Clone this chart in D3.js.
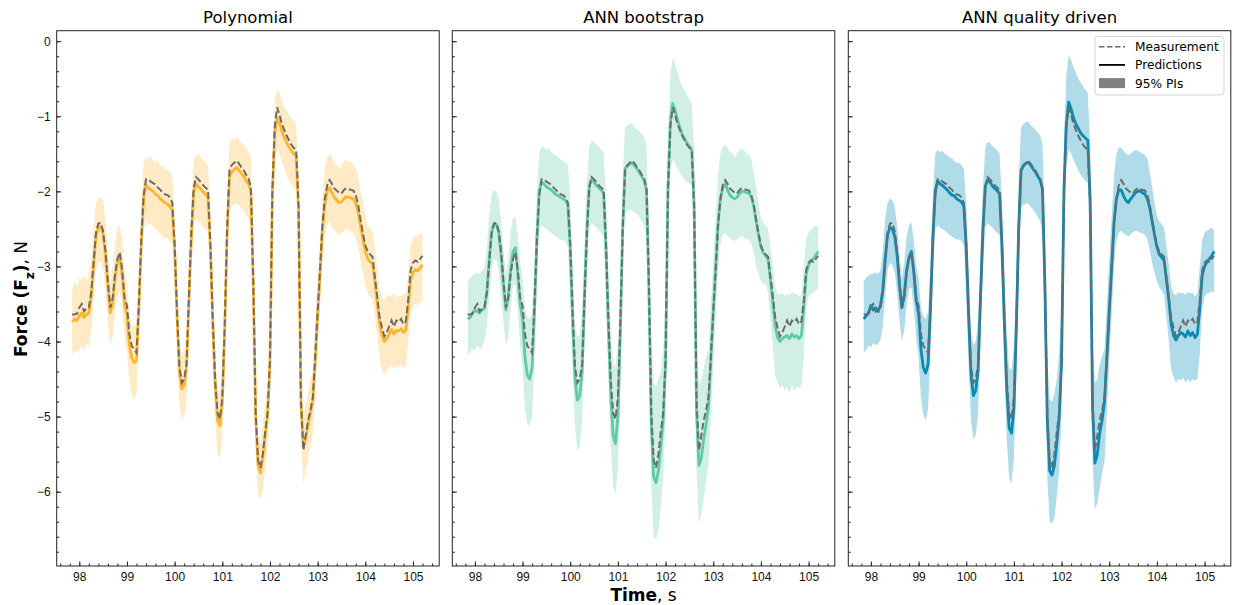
<!DOCTYPE html>
<html>
<head>
    <meta charset="utf-8">
    <title>Force prediction intervals</title>
    <script type="text/javascript" src="https://cdn.jsdelivr.net/npm/d3@7"></script>
    <style type="text/css">
        body { margin: 0; background: #fff; }
        svg { font-family: "DejaVu Sans", sans-serif; }
        .frame { fill: none; stroke: #222; stroke-width: 1; }
        .tick line { stroke: #222; }
        .tick text { fill: #111; }
    </style>
</head>
<body>
<svg width="1233" height="605"></svg>

<script type="text/javascript">
    // sampled every 0.05 s starting at 97.85 s
    var startTime = 97.85, sampleStep = 0.05;

    var measurement = [
        -3.64,-3.64,-3.63,-3.55,-3.50,-3.60,-3.56,-3.55,-3.35,-2.95,
        -2.55,-2.43,-2.42,-2.53,-2.80,-3.20,-3.55,-3.42,-3.10,-2.90,
        -2.81,-3.05,-3.42,-3.52,-3.90,-4.06,-4.10,-4.15,-3.50,-2.65,
        -2.05,-1.84,-1.84,-1.87,-1.89,-1.91,-1.95,-1.98,-2.02,-2.04,
        -2.05,-2.08,-2.15,-2.70,-3.60,-4.33,-4.55,-4.50,-4.30,-3.40,
        -2.55,-1.95,-1.81,-1.84,-1.88,-1.92,-1.95,-1.98,-2.70,-3.70,
        -4.51,-4.95,-5.03,-4.75,-3.80,-2.52,-1.72,-1.65,-1.62,-1.59,
        -1.63,-1.68,-1.72,-1.78,-1.83,-1.95,-3.20,-4.95,-5.58,-5.68,
        -5.50,-5.20,-4.95,-4.25,-2.00,-1.14,-0.88,-0.98,-1.10,-1.18,
        -1.26,-1.32,-1.38,-1.42,-1.45,-2.20,-4.80,-5.45,-5.25,-5.05,
        -4.92,-4.74,-4.20,-3.60,-3.05,-2.45,-2.10,-1.92,-1.85,-1.90,
        -1.96,-1.99,-2.02,-2.03,-1.98,-1.96,-1.97,-1.98,-1.99,-2.05,
        -2.18,-2.38,-2.56,-2.72,-2.80,-2.84,-2.87,-3.14,-3.40,-3.68,
        -3.82,-3.93,-3.88,-3.80,-3.72,-3.80,-3.72,-3.74,-3.70,-3.77,
        -3.73,-3.45,-3.05,-2.95,-2.92,-2.94,-2.90,-2.86];

    var polyPred = [
        -3.74,-3.70,-3.72,-3.66,-3.62,-3.68,-3.64,-3.62,-3.40,-2.98,
        -2.60,-2.48,-2.47,-2.58,-2.85,-3.26,-3.62,-3.50,-3.15,-2.95,
        -2.88,-3.12,-3.50,-3.65,-4.05,-4.22,-4.28,-4.25,-3.55,-2.70,
        -2.08,-1.92,-1.95,-1.98,-2.00,-2.04,-2.06,-2.10,-2.13,-2.15,
        -2.17,-2.20,-2.25,-2.75,-3.65,-4.40,-4.63,-4.58,-4.35,-3.45,
        -2.60,-2.02,-1.90,-1.94,-1.97,-2.01,-2.04,-2.08,-2.75,-3.75,
        -4.58,-5.05,-5.12,-4.82,-3.85,-2.58,-1.80,-1.74,-1.71,-1.68,
        -1.72,-1.76,-1.80,-1.86,-1.90,-2.00,-3.25,-5.00,-5.65,-5.75,
        -5.55,-5.25,-4.98,-4.30,-2.05,-1.22,-1.02,-1.08,-1.20,-1.28,
        -1.35,-1.41,-1.46,-1.50,-1.53,-2.25,-4.82,-5.40,-5.30,-5.10,
        -4.95,-4.78,-4.25,-3.65,-3.10,-2.52,-2.18,-2.00,-1.95,-2.02,
        -2.08,-2.12,-2.15,-2.14,-2.10,-2.07,-2.08,-2.09,-2.10,-2.16,
        -2.28,-2.46,-2.64,-2.80,-2.90,-2.94,-2.96,-3.20,-3.48,-3.76,
        -3.92,-4.00,-3.96,-3.90,-3.84,-3.90,-3.85,-3.86,-3.83,-3.88,
        -3.85,-3.55,-3.18,-3.08,-3.04,-3.06,-3.02,-2.98];
    var polyUpper = [
        -3.30,-3.20,-3.28,-3.15,-3.18,-3.12,-3.20,-3.10,-2.90,-2.50,
        -2.15,-2.10,-2.08,-2.12,-2.40,-2.80,-3.18,-3.00,-2.70,-2.48,
        -2.45,-2.65,-3.05,-3.20,-3.62,-3.78,-3.80,-3.75,-3.10,-2.25,
        -1.62,-1.55,-1.58,-1.52,-1.60,-1.62,-1.58,-1.68,-1.65,-1.72,
        -1.70,-1.75,-1.80,-2.30,-3.20,-3.95,-4.18,-4.12,-3.90,-3.00,
        -2.15,-1.58,-1.52,-1.50,-1.55,-1.58,-1.62,-1.65,-2.30,-3.30,
        -4.15,-4.62,-4.70,-4.40,-3.40,-2.12,-1.38,-1.30,-1.32,-1.28,
        -1.30,-1.35,-1.38,-1.42,-1.48,-1.55,-2.80,-4.55,-5.25,-5.35,
        -5.12,-4.82,-4.55,-3.85,-1.60,-0.78,-0.65,-0.68,-0.78,-0.88,
        -0.92,-0.98,-1.02,-1.08,-1.10,-1.80,-4.38,-4.95,-4.85,-4.68,
        -4.52,-4.35,-3.80,-3.20,-2.65,-2.05,-1.70,-1.55,-1.50,-1.55,
        -1.62,-1.65,-1.70,-1.66,-1.60,-1.58,-1.62,-1.60,-1.65,-1.70,
        -1.82,-2.00,-2.15,-2.32,-2.45,-2.48,-2.52,-2.75,-3.02,-3.30,
        -3.42,-3.45,-3.40,-3.38,-3.40,-3.35,-3.42,-3.38,-3.40,-3.36,
        -3.38,-3.10,-2.72,-2.62,-2.58,-2.60,-2.55,-2.55];
    var polyLower = [
        -4.18,-4.12,-4.15,-4.10,-4.05,-4.12,-4.02,-4.08,-3.85,-3.42,
        -3.05,-2.95,-2.92,-3.05,-3.30,-3.72,-4.05,-3.95,-3.60,-3.40,
        -3.32,-3.58,-3.95,-4.12,-4.52,-4.70,-4.78,-4.70,-4.00,-3.15,
        -2.52,-2.38,-2.45,-2.42,-2.48,-2.50,-2.55,-2.56,-2.60,-2.62,
        -2.62,-2.68,-2.70,-3.20,-4.10,-4.85,-5.05,-5.00,-4.80,-3.90,
        -3.05,-2.48,-2.35,-2.40,-2.42,-2.48,-2.50,-2.52,-3.20,-4.20,
        -5.02,-5.50,-5.55,-5.28,-4.30,-3.02,-2.25,-2.20,-2.18,-2.15,
        -2.18,-2.22,-2.25,-2.32,-2.36,-2.45,-3.70,-5.45,-6.05,-6.10,
        -5.98,-5.70,-5.42,-4.75,-2.50,-1.65,-1.45,-1.50,-1.62,-1.70,
        -1.80,-1.85,-1.90,-1.95,-1.98,-2.70,-5.25,-5.90,-5.72,-5.55,
        -5.40,-5.22,-4.70,-4.10,-3.55,-2.95,-2.62,-2.45,-2.40,-2.48,
        -2.52,-2.55,-2.58,-2.56,-2.52,-2.50,-2.52,-2.54,-2.55,-2.62,
        -2.72,-2.92,-3.10,-3.25,-3.35,-3.40,-3.42,-3.65,-3.92,-4.22,
        -4.38,-4.45,-4.40,-4.35,-4.30,-4.38,-4.32,-4.35,-4.30,-4.36,
        -4.32,-4.00,-3.62,-3.55,-3.50,-3.52,-3.48,-3.45];

    var bootPred = [
        -3.70,-3.68,-3.62,-3.58,-3.60,-3.62,-3.58,-3.56,-3.35,-2.92,
        -2.55,-2.43,-2.44,-2.55,-2.85,-3.25,-3.58,-3.40,-3.05,-2.80,
        -2.75,-3.10,-3.50,-3.70,-4.20,-4.45,-4.50,-4.35,-3.60,-2.65,
        -2.00,-1.88,-1.90,-1.94,-1.96,-1.98,-2.01,-2.04,-2.06,-2.08,
        -2.10,-2.12,-2.18,-2.75,-3.70,-4.50,-4.78,-4.72,-4.40,-3.40,
        -2.50,-1.92,-1.83,-1.88,-1.92,-1.95,-1.98,-2.02,-2.75,-3.80,
        -4.70,-5.25,-5.36,-5.00,-3.90,-2.50,-1.70,-1.66,-1.64,-1.62,
        -1.66,-1.70,-1.75,-1.80,-1.86,-1.98,-3.30,-5.10,-5.80,-5.88,
        -5.72,-5.40,-5.05,-4.30,-1.95,-1.08,-0.83,-0.92,-1.05,-1.15,
        -1.24,-1.30,-1.36,-1.40,-1.44,-2.20,-4.95,-5.65,-5.55,-5.30,
        -5.10,-4.85,-4.25,-3.62,-3.05,-2.45,-2.10,-1.95,-1.90,-1.98,
        -2.05,-2.08,-2.10,-2.08,-2.03,-2.00,-2.00,-2.02,-2.02,-2.08,
        -2.20,-2.40,-2.58,-2.74,-2.82,-2.86,-2.90,-3.18,-3.48,-3.80,
        -3.95,-4.00,-3.96,-3.94,-3.92,-3.96,-3.90,-3.94,-3.92,-3.96,
        -3.92,-3.55,-3.10,-2.98,-2.92,-2.90,-2.85,-2.80];
    var bootUpper = [
        -3.22,-3.15,-3.12,-3.10,-3.08,-3.10,-3.05,-3.02,-2.75,-2.30,
        -2.05,-1.98,-2.00,-2.10,-2.40,-2.78,-3.10,-2.90,-2.55,-2.35,
        -2.34,-2.60,-2.95,-3.15,-3.55,-3.68,-3.70,-3.60,-2.90,-2.00,
        -1.50,-1.40,-1.42,-1.45,-1.42,-1.48,-1.50,-1.52,-1.55,-1.58,
        -1.60,-1.62,-1.65,-2.10,-3.00,-3.80,-3.95,-3.90,-3.60,-2.70,
        -1.90,-1.40,-1.32,-1.35,-1.38,-1.40,-1.45,-1.48,-2.10,-3.05,
        -3.85,-4.30,-4.34,-4.00,-3.10,-1.85,-1.15,-1.12,-1.10,-1.10,
        -1.15,-1.18,-1.20,-1.23,-1.28,-1.40,-2.50,-4.00,-4.55,-4.60,
        -4.50,-4.40,-4.10,-3.40,-1.30,-0.45,-0.23,-0.30,-0.42,-0.52,
        -0.60,-0.66,-0.72,-0.78,-0.83,-1.50,-4.00,-4.55,-4.50,-4.35,
        -4.20,-4.11,-3.50,-2.90,-2.35,-1.80,-1.50,-1.40,-1.38,-1.42,
        -1.48,-1.50,-1.55,-1.50,-1.45,-1.43,-1.45,-1.50,-1.52,-1.58,
        -1.75,-1.95,-2.15,-2.35,-2.42,-2.46,-2.50,-2.75,-3.00,-3.28,
        -3.36,-3.38,-3.35,-3.40,-3.36,-3.38,-3.34,-3.37,-3.36,-3.40,
        -3.38,-3.00,-2.62,-2.55,-2.50,-2.48,-2.45,-2.48];
    var bootLower = [
        -4.18,-4.15,-4.10,-4.12,-4.05,-4.10,-4.08,-4.00,-3.80,-3.40,
        -3.05,-2.90,-2.92,-3.05,-3.40,-3.75,-4.05,-3.95,-3.55,-3.25,
        -3.25,-3.60,-4.05,-4.35,-4.90,-5.10,-5.12,-5.00,-4.20,-3.20,
        -2.50,-2.45,-2.48,-2.50,-2.52,-2.55,-2.58,-2.60,-2.62,-2.64,
        -2.65,-2.66,-2.75,-3.40,-4.40,-5.15,-5.45,-5.40,-5.05,-4.00,
        -3.10,-2.50,-2.42,-2.45,-2.48,-2.52,-2.55,-2.60,-3.40,-4.50,
        -5.40,-5.92,-6.02,-5.70,-4.60,-3.15,-2.30,-2.25,-2.24,-2.25,
        -2.28,-2.30,-2.34,-2.40,-2.45,-2.60,-4.05,-5.90,-6.60,-6.64,
        -6.50,-6.20,-5.80,-5.00,-2.70,-1.75,-1.58,-1.62,-1.70,-1.75,
        -1.80,-1.85,-1.88,-1.90,-1.92,-2.90,-5.70,-6.42,-6.30,-6.10,
        -5.85,-5.65,-5.00,-4.30,-3.70,-3.05,-2.70,-2.58,-2.55,-2.60,
        -2.62,-2.65,-2.66,-2.64,-2.60,-2.60,-2.62,-2.63,-2.65,-2.70,
        -2.80,-3.00,-3.10,-3.20,-3.22,-3.25,-3.35,-3.70,-4.05,-4.45,
        -4.55,-4.62,-4.58,-4.65,-4.60,-4.68,-4.58,-4.66,-4.60,-4.62,
        -4.60,-4.20,-3.55,-3.40,-3.36,-3.35,-3.32,-3.30];

    var qdPred = [
        -3.70,-3.66,-3.62,-3.52,-3.58,-3.55,-3.60,-3.52,-3.32,-2.90,
        -2.58,-2.48,-2.50,-2.60,-2.85,-3.25,-3.55,-3.38,-3.05,-2.88,
        -2.80,-3.08,-3.45,-3.62,-4.10,-4.35,-4.42,-4.30,-3.55,-2.62,
        -2.00,-1.86,-1.90,-1.92,-1.95,-1.98,-2.02,-2.05,-2.06,-2.10,
        -2.12,-2.14,-2.20,-2.75,-3.65,-4.45,-4.72,-4.65,-4.38,-3.40,
        -2.52,-1.93,-1.84,-1.88,-1.93,-1.96,-1.99,-2.03,-2.72,-3.75,
        -4.62,-5.15,-5.22,-4.90,-3.85,-2.50,-1.72,-1.66,-1.63,-1.61,
        -1.65,-1.70,-1.74,-1.80,-1.85,-1.97,-3.25,-5.05,-5.72,-5.78,
        -5.65,-5.35,-5.00,-4.28,-1.98,-1.10,-0.81,-0.90,-1.02,-1.10,
        -1.16,-1.22,-1.26,-1.29,-1.32,-2.10,-4.90,-5.62,-5.50,-5.22,
        -5.05,-4.80,-4.22,-3.60,-3.02,-2.42,-2.10,-1.98,-1.98,-2.06,
        -2.12,-2.15,-2.10,-2.06,-2.02,-2.00,-1.99,-2.02,-2.04,-2.10,
        -2.22,-2.40,-2.58,-2.74,-2.84,-2.88,-2.92,-3.18,-3.45,-3.78,
        -3.92,-3.98,-3.92,-3.88,-3.90,-3.94,-3.86,-3.92,-3.88,-3.95,
        -3.90,-3.55,-3.12,-3.00,-2.94,-2.90,-2.86,-2.80];
    var qdUpper = [
        -3.20,-3.15,-3.12,-3.10,-3.10,-3.08,-3.10,-3.05,-2.80,-2.35,
        -2.15,-2.10,-2.12,-2.20,-2.45,-2.85,-3.15,-2.95,-2.60,-2.45,
        -2.41,-2.65,-3.00,-3.15,-3.55,-3.67,-3.70,-3.60,-2.95,-2.05,
        -1.50,-1.45,-1.48,-1.46,-1.50,-1.52,-1.55,-1.56,-1.60,-1.62,
        -1.62,-1.65,-1.70,-2.15,-3.05,-3.85,-4.05,-4.00,-3.70,-2.75,
        -1.95,-1.42,-1.34,-1.36,-1.40,-1.42,-1.46,-1.50,-2.15,-3.10,
        -3.90,-4.35,-4.38,-4.05,-3.15,-1.85,-1.15,-1.10,-1.08,-1.07,
        -1.12,-1.15,-1.18,-1.22,-1.26,-1.38,-2.50,-4.20,-4.77,-4.80,
        -4.70,-4.50,-4.15,-3.45,-1.30,-0.45,-0.19,-0.25,-0.35,-0.42,
        -0.50,-0.55,-0.60,-0.65,-0.69,-1.40,-4.00,-4.55,-4.50,-4.30,
        -4.20,-4.10,-3.50,-2.90,-2.35,-1.80,-1.50,-1.42,-1.42,-1.46,
        -1.50,-1.52,-1.50,-1.47,-1.45,-1.46,-1.48,-1.50,-1.52,-1.56,
        -1.75,-1.95,-2.15,-2.32,-2.40,-2.43,-2.48,-2.72,-2.98,-3.28,
        -3.36,-3.38,-3.34,-3.36,-3.35,-3.38,-3.34,-3.36,-3.35,-3.40,
        -3.36,-3.00,-2.65,-2.55,-2.52,-2.50,-2.48,-2.52];
    var qdLower = [
        -4.14,-4.12,-4.05,-4.08,-4.02,-4.05,-4.03,-3.98,-3.80,-3.38,
        -3.05,-2.95,-2.98,-3.08,-3.35,-3.72,-4.00,-3.85,-3.50,-3.30,
        -3.28,-3.55,-3.95,-4.20,-4.75,-4.98,-5.05,-4.90,-4.10,-3.15,
        -2.50,-2.45,-2.48,-2.50,-2.52,-2.55,-2.58,-2.60,-2.62,-2.64,
        -2.64,-2.66,-2.72,-3.35,-4.30,-5.05,-5.31,-5.25,-4.95,-3.95,
        -3.05,-2.48,-2.43,-2.45,-2.48,-2.52,-2.55,-2.58,-3.30,-4.40,
        -5.30,-5.82,-5.89,-5.55,-4.50,-3.05,-2.22,-2.18,-2.16,-2.16,
        -2.20,-2.24,-2.28,-2.34,-2.40,-2.55,-3.95,-5.80,-6.40,-6.42,
        -6.35,-6.05,-5.70,-4.95,-2.65,-1.65,-1.45,-1.50,-1.58,-1.65,
        -1.72,-1.78,-1.82,-1.86,-1.89,-2.80,-5.60,-6.24,-6.15,-5.95,
        -5.75,-5.60,-4.95,-4.25,-3.65,-3.00,-2.65,-2.55,-2.52,-2.56,
        -2.58,-2.60,-2.57,-2.54,-2.52,-2.53,-2.55,-2.56,-2.58,-2.64,
        -2.78,-2.95,-3.08,-3.20,-3.28,-3.32,-3.38,-3.68,-4.00,-4.38,
        -4.47,-4.55,-4.50,-4.52,-4.48,-4.55,-4.50,-4.54,-4.50,-4.52,
        -4.50,-4.15,-3.55,-3.40,-3.36,-3.35,-3.33,-3.35];

    var panelTitles = ["Polynomial", "ANN bootstrap", "ANN quality driven"];
    var lineColors = ["#ffb62e", "#5ecba6", "#0a8bb4"];
    var bandColors = ["#ffeac6", "#d2efe5", "#b0dbe8"];
    var xTicks = [98, 99, 100, 101, 102, 103, 104, 105];
    var yTicks = [0, -1, -2, -3, -4, -5, -6];
    var legendLabels = ["Measurement", "Predictions", "95% PIs"];

    var models = [
        {pred: polyPred, upper: polyUpper, lower: polyLower},
        {pred: bootPred, upper: bootUpper, lower: bootLower},
        {pred: qdPred, upper: qdUpper, lower: qdLower}
    ];

    var time = measurement.map(function (d, i) { return +(startTime + i * sampleStep).toFixed(2); });

    var svg = d3.select("svg");
    var panelLeft = [56.7, 452.3, 848.3], panelTop = 30.7,
        panelW = 382.5, panelH = 535.3;

    var x = d3.scaleLinear().domain([97.526, 105.55]).range([0, panelW]);
    var y = d3.scaleLinear().domain([-6.99, 0.14]).range([panelH, 0]);

    var area = d3.area()
        .x(function (d) { return x(d.t); })
        .y0(function (d) { return y(d.lo); })
        .y1(function (d) { return y(d.hi); });
    var line = d3.line()
        .x(function (d) { return x(d.t); })
        .y(function (d) { return y(d.v); });

    svg.append("defs").append("clipPath").attr("id", "clip")
        .append("rect").attr("width", panelW).attr("height", panelH);

    var xMinor = d3.range(97.6, 105.5, 0.2).map(function (d) { return +d.toFixed(1); });
    var yMinor = d3.range(-6.8, 0.01, 0.2).map(function (d) { return +d.toFixed(1); });

    models.forEach(function (m, k) {
        var g = svg.append("g")
            .attr("transform", "translate(" + panelLeft[k] + "," + panelTop + ")");
        var plot = g.append("g").attr("clip-path", "url(#clip)");

        var band = time.map(function (t, i) { return {t: t, lo: m.lower[i], hi: m.upper[i]}; });
        plot.append("path").datum(band)
            .attr("fill", bandColors[k])
            .attr("d", area);

        plot.append("path")
            .datum(time.map(function (t, i) { return {t: t, v: m.pred[i]}; }))
            .attr("fill", "none")
            .attr("stroke", lineColors[k])
            .attr("stroke-width", 2.8)
            .attr("stroke-linejoin", "round")
            .attr("d", line);

        plot.append("path")
            .datum(time.map(function (t, i) { return {t: t, v: measurement[i]}; }))
            .attr("fill", "none")
            .attr("stroke", "#6b6b6b")
            .attr("stroke-width", 2)
            .attr("stroke-dasharray", "7,3")
            .attr("d", line);

        // axes with inward ticks
        var xAxis = g.append("g").attr("transform", "translate(0," + panelH + ")")
            .call(d3.axisBottom(x).tickValues(xTicks).tickSize(-4.5).tickPadding(6));
        xAxis.selectAll("text").style("font-size", "12px");
        g.append("g").attr("transform", "translate(0," + panelH + ")")
            .call(d3.axisBottom(x).tickValues(xMinor).tickSize(-2.5).tickFormat(""));

        var yAxis = g.append("g")
            .call(d3.axisLeft(y).tickValues(yTicks).tickSize(-4.5).tickPadding(6)
                .tickFormat(k === 0 ? d3.format("d") : ""));
        yAxis.selectAll("text").style("font-size", "12px");
        g.append("g")
            .call(d3.axisLeft(y).tickValues(yMinor).tickSize(-2.5).tickFormat(""));

        g.selectAll(".domain").remove();
        g.append("rect").attr("class", "frame")
            .attr("width", panelW).attr("height", panelH);

        g.append("text")
            .attr("x", panelW / 2).attr("y", 23.3 - panelTop)
            .attr("text-anchor", "middle")
            .style("font-size", "16.5px")
            .text(panelTitles[k]);
    });

    // axis labels
    var xLabel = svg.append("text")
        .attr("x", panelLeft[1] + panelW / 2).attr("y", 600.5)
        .attr("text-anchor", "middle")
        .style("font-size", "17px");
    xLabel.append("tspan").attr("font-weight", "bold").text("Time");
    xLabel.append("tspan").text(", s");

    var yLabel = svg.append("text")
        .attr("transform", "translate(26.5,299) rotate(-90)")
        .attr("text-anchor", "middle")
        .style("font-size", "17px");
    yLabel.append("tspan").attr("font-weight", "bold").text("Force (F");
    yLabel.append("tspan").attr("font-weight", "bold").attr("baseline-shift", "sub")
        .style("font-size", "12px").text("z");
    yLabel.append("tspan").attr("font-weight", "bold").text(")");
    yLabel.append("tspan").text(", N");

    // legend
    var legend = svg.append("g").attr("transform", "translate(1095,36.5)");
    legend.append("rect")
        .attr("width", 129).attr("height", 58.5).attr("rx", 3)
        .attr("fill", "#fff").attr("fill-opacity", 0.85)
        .attr("stroke", "#d3d3d3");
    legendLabels.forEach(function (label, i) {
        var cy = 10.2 + i * 18.2;
        if (i === 0) {
            legend.append("line").attr("x1", 4).attr("x2", 30).attr("y1", cy).attr("y2", cy)
                .attr("stroke", "#6b6b6b").attr("stroke-width", 1.6).attr("stroke-dasharray", "5.5,2.5");
        } else if (i === 1) {
            legend.append("line").attr("x1", 4).attr("x2", 30).attr("y1", cy).attr("y2", cy)
                .attr("stroke", "#000").attr("stroke-width", 1.8);
        } else {
            legend.append("rect").attr("x", 4).attr("y", cy - 5).attr("width", 26).attr("height", 10)
                .attr("fill", "#808080");
        }
        legend.append("text")
            .attr("x", 40).attr("y", cy + 4.4)
            .style("font-size", "12.2px")
            .text(label);
    });
</script>
</body>
</html>
